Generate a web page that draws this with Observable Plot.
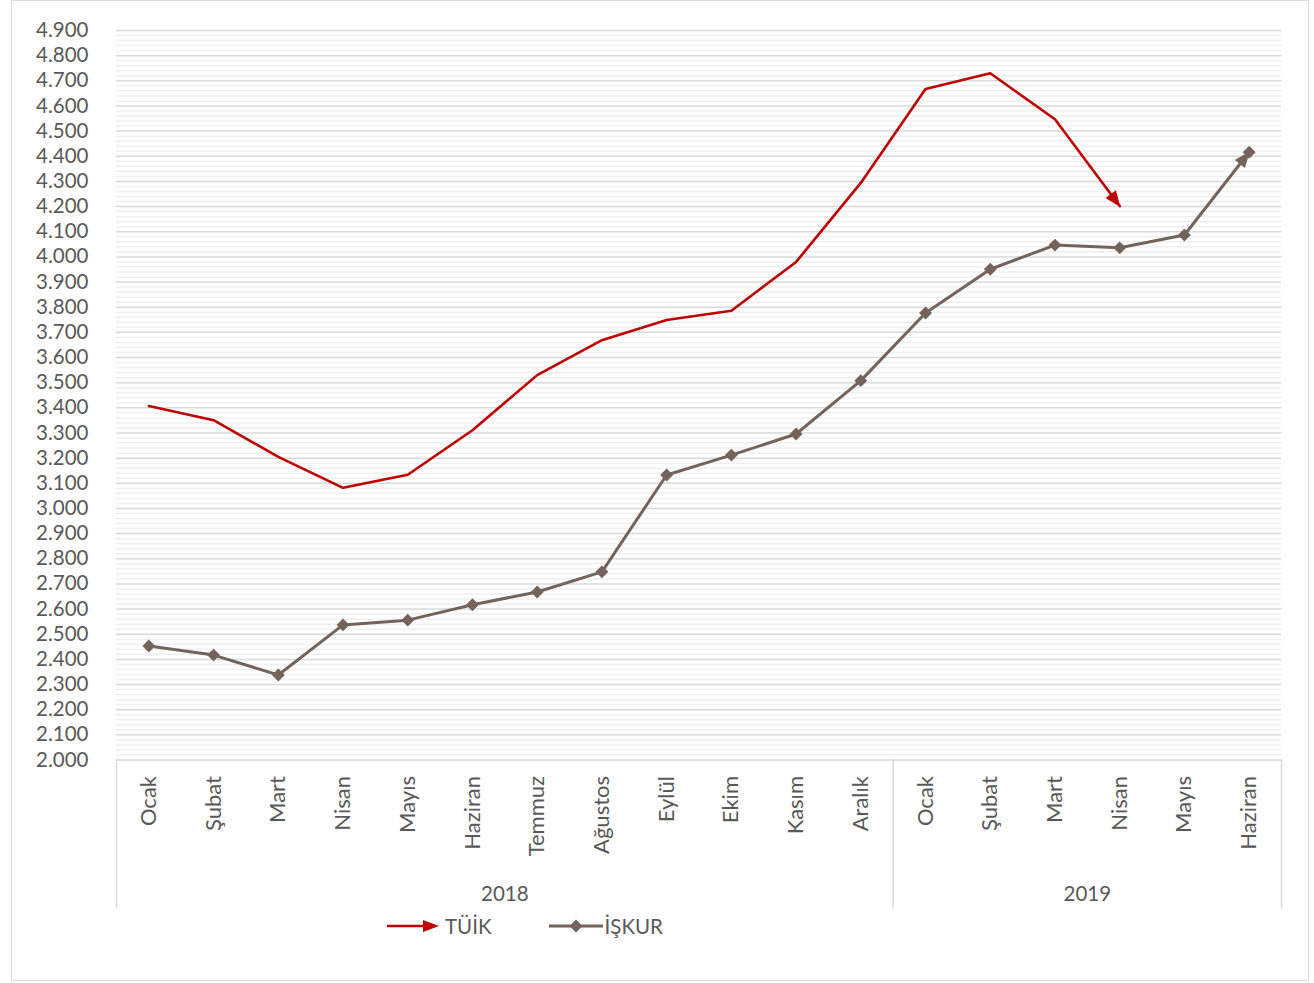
<!DOCTYPE html>
<html><head><meta charset="utf-8">
<script src="https://cdn.jsdelivr.net/npm/d3@7"></script>
<script src="https://cdn.jsdelivr.net/npm/@observablehq/plot@0.6"></script>
<style>
body{margin:0;background:#fff;font-family:Lato,sans-serif;}
#frame{position:absolute;left:11px;top:0;width:1298px;height:981px;box-sizing:border-box;border:1.5px solid #d9d9d9;}
#chart{position:absolute;left:0;top:0;}
#legend{position:absolute;left:387px;top:911px;display:flex;align-items:center;height:30px;font-size:20.5px;color:#595959;white-space:nowrap;}
#legend span{display:inline-flex;align-items:center;}
</style></head><body>
<div id="frame"></div>
<div id="chart"></div>
<div id="legend"></div>
<script>
// ---- data ----
const months2018 = ["Ocak","Şubat","Mart","Nisan","Mayıs","Haziran","Temmuz","Ağustos","Eylül","Ekim","Kasım","Aralık"];
const months2019 = ["Ocak","Şubat","Mart","Nisan","Mayıs","Haziran"];
const years = ["2018","2019"];
const tuik  = [3407,3351,3205,3082,3134,3311,3530,3669,3749,3786,3980,4294,4667,4730,4547,4202];
const iskur = [2453,2417,2338,2537,2556,2617,2668,2748,3133,3212,3296,3508,3777,3951,4047,4036,4087,4416];
const yTicks = d3.range(2000, 4901, 100);
const yMinor = d3.range(2000, 4900, 20).filter(v => v % 100 !== 0);
const seriesNames = ["TÜİK","İŞKUR"];

const RED = "#c00000", BROWN = "#756359", TXT = "#595959";

// ---- derived tables ----
const cats = [
  ...months2018.map((m, i) => ({i, month: m, year: years[0]})),
  ...months2019.map((m, i) => ({i: months2018.length + i, month: m, year: years[1]}))
];
const tuikData = tuik.map((v, i) => ({i, v}));
const iskurData = iskur.map((v, i) => ({i, v}));
const groups = [
  {year: years[0], start: -0.5, end: months2018.length - 0.5},
  {year: years[1], start: months2018.length - 0.5, end: months2018.length + months2019.length - 0.5}
];
const dividers = [groups[0].start, groups[0].end, groups[1].end];
const trFmt = d3.formatLocale({decimal: ",", thousands: ".", grouping: [3], currency: ["", ""]}).format(",");

const chart = Plot.plot({
  width: 1314,
  height: 915,
  marginTop: 30,
  marginBottom: 155.5,
  marginLeft: 116,
  marginRight: 33,
  style: {fontFamily: "Lato, sans-serif", fontSize: "20.5px", color: TXT, background: "transparent", overflow: "visible"},
  x: {type: "linear", domain: [-0.5, cats.length - 0.5], axis: null},
  y: {domain: [2000, 4900], axis: null},
  marks: [
    Plot.ruleY(yMinor, {stroke: "#efefef", strokeWidth: 1.5}),
    Plot.ruleY(yTicks, {stroke: "#d9d9d9", strokeWidth: 1.5}),
    Plot.axisY(yTicks, {tickSize: 0, tickPadding: 28, tickFormat: trFmt, label: null, fill: TXT, fontSize: 20.5}),
    Plot.ruleX(dividers, {x: d => d, y1: 2000, y2: 2000, insetBottom: -149, stroke: "#d9d9d9", strokeWidth: 1.5}),
    Plot.text(cats, {x: "i", text: "month", frameAnchor: "bottom", dy: 16, rotate: -90, textAnchor: "end", lineAnchor: "middle", fill: TXT, fontSize: 22}),
    Plot.text(groups, {x: d => (d.start + d.end) / 2, text: "year", frameAnchor: "bottom", dy: 134, lineAnchor: "middle", fill: TXT, fontSize: 20.5}),
    Plot.line(tuikData, {x: "i", y: "v", stroke: RED, strokeWidth: 2.6}),
    Plot.line(iskurData, {x: "i", y: "v", stroke: BROWN, strokeWidth: 3}),
    Plot.dot(iskurData, {x: "i", y: "v", symbol: "diamond2", r: 5.8, fill: BROWN, stroke: "none"})
  ]
});

// custom filled arrowheads
const ns = "http://www.w3.org/2000/svg";
const defs = document.createElementNS(ns, "defs");
function addMarker(id, color) {
  const m = document.createElementNS(ns, "marker");
  m.setAttribute("id", id);
  m.setAttribute("markerUnits", "userSpaceOnUse");
  m.setAttribute("viewBox", "-16 -8 18 16");
  m.setAttribute("refX", "0");
  m.setAttribute("refY", "0");
  m.setAttribute("markerWidth", "18");
  m.setAttribute("markerHeight", "16");
  m.setAttribute("orient", "auto");
  m.setAttribute("overflow", "visible");
  const p = document.createElementNS(ns, "path");
  p.setAttribute("d", "M-15,-6.5L1,0L-15,6.5Z");
  p.setAttribute("fill", color);
  m.appendChild(p);
  defs.appendChild(m);
}
addMarker("arrRed", RED);
addMarker("arrBrown", BROWN);
chart.insertBefore(defs, chart.firstChild);
const lines = chart.querySelectorAll('g[aria-label="line"] path');
if (lines[0]) lines[0].setAttribute("marker-end", "url(#arrRed)");
if (lines[1]) lines[1].setAttribute("marker-end", "url(#arrBrown)");

document.getElementById("chart").appendChild(chart);

// legend
const legend = document.getElementById("legend");
legend.innerHTML =
  `<span><svg width="52" height="16" viewBox="0 0 52 16"><line x1="0" y1="8" x2="40" y2="8" stroke="${RED}" stroke-width="2.6"/><path d="M36,2L52,8L36,14Z" fill="${RED}"/></svg><span style="margin-left:6px">${seriesNames[0]}</span></span>` +
  `<span style="margin-left:57px"><svg width="54" height="16" viewBox="0 0 54 16"><line x1="0" y1="8" x2="54" y2="8" stroke="${BROWN}" stroke-width="3"/><path d="M27,1.5L33.5,8L27,14.5L20.5,8Z" fill="${BROWN}"/></svg><span style="margin-left:2px">${seriesNames[1]}</span></span>`;
</script>
</body></html>
